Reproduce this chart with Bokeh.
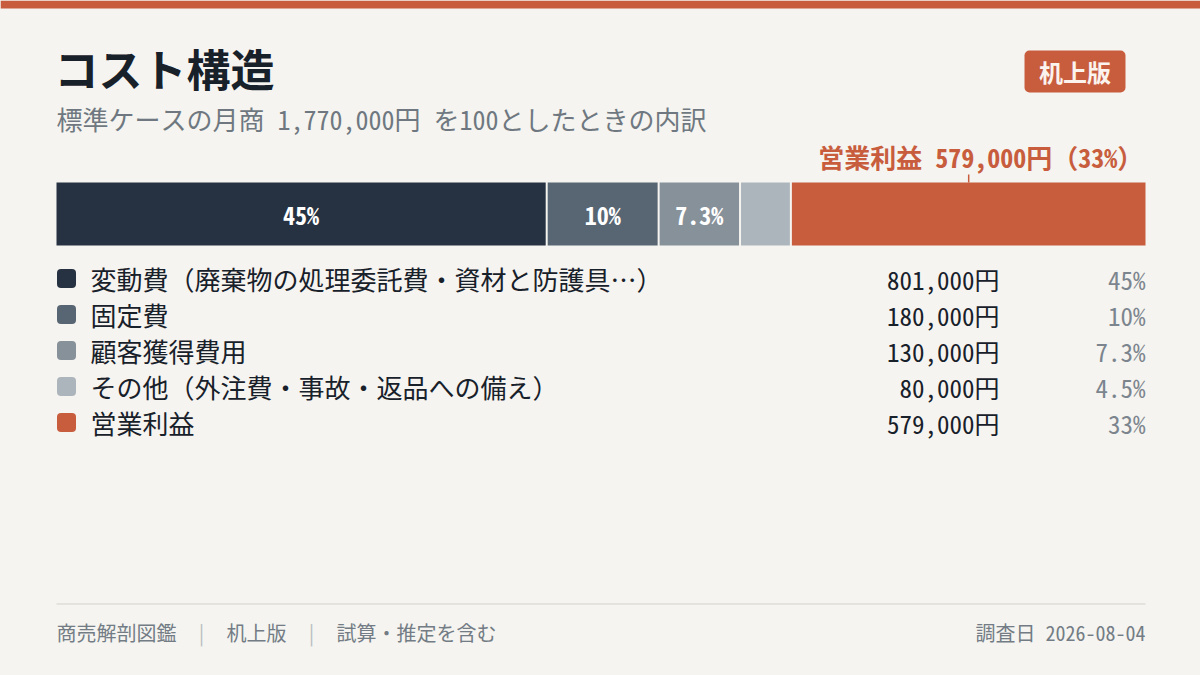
from bokeh.plotting import figure
from bokeh.models import Range1d, GlobalInlineStyleSheet
from bokeh.core.properties import value
from bokeh.embed import file_html
from bokeh.resources import INLINE

# ---- data ----
title = "コスト構造"
subtitle = "標準ケースの月商 1,770,000円 を100としたときの内訳"
badge = "机上版"
categories = ["変動費（廃棄物の処理委託費・資材と防護具…）", "固定費", "顧客獲得費用",
              "その他（外注費・事故・返品への備え）", "営業利益"]
amounts = [801000, 180000, 130000, 80000, 579000]
amount_labels = ["801,000円", "180,000円", "130,000円", "80,000円", "579,000円"]
share_labels = ["45%", "10%", "7.3%", "4.5%", "33%"]
shares = [45, 10, 7.3, 4.5, 33]
colors = ["#263241", "#586673", "#87919a", "#adb5bc", "#c85d3e"]
footer_items = ["商売解剖図鑑", "机上版", "試算・推定を含む"]
survey_date = "調査日 2026-08-04"

# ---- style ----
W, H = 1200, 675
BG = "#f5f4f0"
ACCENT = "#c85d3e"
DARK = "#18202a"
GRAY = "#6f7880"
FONT = value("'Noto Sans Mono CJK JP', 'Noto Sans CJK JP', sans-serif")
LEFT, RIGHT = 56, 1145
GAP_PX = 2

total = sum(amounts)
n = len(amounts)
k = total / ((RIGHT - LEFT) - GAP_PX * (n - 1))   # value units per pixel
gap_val = GAP_PX * k

p = figure(width=W, height=H, output_backend="svg", toolbar_location=None,
           x_range=Range1d(0, W), y_range=Range1d(H, 0), min_border=0,
           background_fill_color=BG, border_fill_color=BG, outline_line_color=None)
p.extra_x_ranges = {"val": Range1d(-LEFT * k, (W - LEFT) * k)}
p.axis.visible = False
p.grid.visible = False
p.stylesheets = [GlobalInlineStyleSheet(css=f"html,body{{margin:0;padding:0;background:{BG};overflow:hidden;}}")]

# top band
p.quad(left=[0], right=[W], top=[0], bottom=[8], fill_color=ACCENT, line_color=None)

# title + subtitle
p.text(x=[LEFT - 2], y=[67], text=[title], text_font=FONT, text_font_size="44px",
       text_font_style="bold", text_color=DARK, text_baseline="middle")
p.text(x=[LEFT], y=[118], text=[subtitle], text_font=FONT, text_font_size="26px",
       text_color=GRAY, text_baseline="middle")

# badge
p.rect(x=[1074.5], y=[71], width=101, height=42, fill_color=ACCENT, line_color=None,
       border_radius=5)
p.text(x=[1074.5], y=[71], text=[badge], text_font=FONT, text_font_size="24px",
       text_font_style="bold", text_color="#fbf3ee", text_align="center", text_baseline="middle")

# stacked bar (segments separated by a small gap)
lefts, rights = [], []
acc = 0
for i, a in enumerate(amounts):
    lefts.append(acc + i * gap_val)
    acc += a
    rights.append(acc + i * gap_val)
mids = [(l + r) / 2 for l, r in zip(lefts, rights)]
p.hbar(y=[213.5] * n, height=63, left=lefts, right=rights, fill_color=colors,
       line_color=None, x_range_name="val")

inner = [s if (c != "営業利益" and v >= 5) else "" for s, c, v in zip(share_labels, categories, shares)]
p.text(x=mids, y=[213.5] * n, text=inner, x_range_name="val", text_font=FONT,
       text_font_size="24px", text_font_style="bold", text_color="#ffffff",
       text_align="center", text_baseline="middle")

# profit annotation
pi = categories.index("営業利益")
p.segment(x0=[mids[pi]], x1=[mids[pi]], y0=[174], y1=[182], x_range_name="val",
          line_color=ACCENT, line_width=1.5)
p.text(x=[mids[pi]], y=[156], text=[f"営業利益 {amount_labels[pi]}（{share_labels[pi]}）"],
       x_range_name="val", x_offset=12, text_font=FONT, text_font_size="26px",
       text_font_style="bold", text_color=ACCENT, text_align="center", text_baseline="middle")

# legend table
rows = [278 + 36 * i for i in range(n)]
p.rect(x=[66] * n, y=rows, width=19, height=19, fill_color=colors, line_color=None,
       border_radius=4)
p.text(x=[90] * n, y=rows, text=categories, text_font=FONT, text_font_size="26px",
       text_color=DARK, text_baseline="middle")
p.text(x=[999] * n, y=rows, text=amount_labels, text_font=FONT, text_font_size="25px",
       text_color=DARK, text_align="right", text_baseline="middle")
p.text(x=[RIGHT] * n, y=rows, text=share_labels, text_font=FONT, text_font_size="25px",
       text_color="#7c858e", text_align="right", text_baseline="middle")

# footer
p.segment(x0=[LEFT], x1=[RIGHT], y0=[603.5], y1=[603.5], line_color="#d3d1cc", line_width=1)
p.text(x=[LEFT, 226, 336], y=[632] * 3, text=footer_items, text_font=FONT,
       text_font_size="20px", text_color="#737c85", text_baseline="middle")
p.text(x=[201, 311], y=[632] * 2, text=["|", "|"], text_font=FONT, text_font_size="20px",
       text_color="#b9bdc1", text_align="center", text_baseline="middle")
p.text(x=[RIGHT], y=[632], text=[survey_date], text_font=FONT, text_font_size="20px",
       text_color="#737c85", text_align="right", text_baseline="middle")

open("out.html", "w").write(file_html(p, INLINE))
